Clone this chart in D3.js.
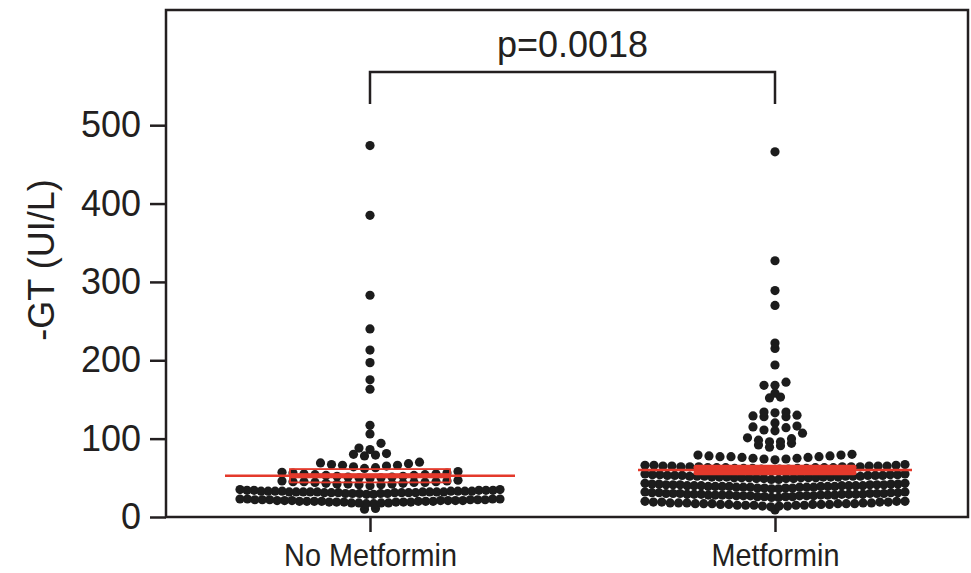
<!DOCTYPE html>
<html>
<head>
<meta charset="utf-8">
<script src="https://cdn.jsdelivr.net/npm/d3@7"></script>
<style>
  body { margin: 0; background: #fff; }
  svg text { font-family: "Liberation Sans", Arial, sans-serif; fill: #231f20; }
</style>
</head>
<body>
<svg id="chart" width="971" height="573"></svg>
<script>
// Groups and their γ-GT values (UI/L)
const categories = ["No Metformin", "Metformin"];

const noMetformin = [
  10, 11,
  17, 18, 19, 20, 21, 22, 23, 18, 19, 20, 21, 22, 23, 19, 20, 21, 22, 23,
  17, 18, 19, 20, 21, 22, 23, 19, 20, 21, 22, 20, 21, 22, 18, 19, 20, 21,
  29, 30, 31, 32, 33, 34, 35, 30, 31, 32, 33, 34, 35, 29, 30, 31, 32, 33, 34,
  31, 32, 33, 34, 30, 31, 32, 33, 32, 33, 31, 32, 33, 30, 31, 32, 33, 34, 32,
  40, 41, 42, 43, 44, 45, 46, 47, 41, 42, 43, 44, 45, 46, 42, 44, 45,
  49, 50, 51, 52, 53, 54, 55, 56, 57, 58, 50, 52, 54, 56, 51, 53, 55,
  62, 63, 64, 65, 66, 67, 68, 69, 70, 66,
  78, 79, 80, 81,
  86, 88, 94,
  106, 117,
  163, 175, 197, 213, 240, 283, 385, 474
];

const metformin = [
  9,
  13, 14, 15, 16, 17, 18, 19, 20, 14, 15, 16, 17, 18, 19, 20, 15, 16, 17, 18, 19, 20,
  14, 15, 16, 17, 18, 19, 16, 17, 18, 15, 17,
  25, 26, 27, 28, 29, 30, 31, 32, 25, 26, 27, 28, 29, 30, 31, 32, 26, 27, 28, 29, 30, 31,
  26, 27, 28, 29, 30, 31, 27, 28, 29, 30, 27, 28, 29, 30, 28, 29,
  36, 37, 38, 39, 40, 41, 42, 43, 36, 37, 38, 39, 40, 41, 42, 43, 37, 38, 39, 40, 41, 42,
  37, 38, 39, 40, 41, 42, 38, 39, 40, 41, 38, 39, 40, 41, 39, 40,
  48, 49, 50, 51, 52, 53, 54, 55, 48, 49, 50, 51, 52, 53, 54, 55, 49, 50, 51, 52, 53, 54,
  49, 50, 51, 52, 53, 54, 50, 51, 52, 53, 50, 51, 52, 53,
  60, 61, 62, 63, 64, 65, 66, 67, 61, 62, 63, 64, 65, 66, 61, 62, 63, 64, 65, 66,
  62, 63, 64, 65, 62, 63, 64, 65, 63, 64,
  73, 74, 75, 76, 77, 78, 79, 80, 74, 75, 76, 77, 78, 79, 77,
  89, 91, 92, 94,
  96, 96, 98, 100, 101, 107,
  110, 111, 114, 115, 116,
  120, 128, 128, 129, 130,
  133, 134, 134,
  152, 153,
  158,
  168, 168, 172,
  194,
  215, 222,
  270, 289, 327, 466
];

const yTicks = [0, 100, 200, 300, 400, 500];
const yTitle = "-GT (UI/L)";
const pText = "p=0.0018";

const groups = [noMetformin, metformin];

const svg = d3.select("#chart");
const plotLeft = 166, plotRight = 968, plotTop = 10, plotBottom = 517;

const x = d3.scalePoint().domain(categories).range([370, 775]);
const y = d3.scaleLinear().domain([0, 647]).range([plotBottom, plotTop]);

// Column scatter layout: values sharing a row band are spread side by side
function swarm(values, cx) {
  const band = 12, gap = 11, maxHalf = 130;
  const rows = d3.group(values, v => Math.floor(v / band));
  const pts = [];
  for (const [, vs] of rows) {
    const sorted = vs.slice().sort((a, b) => a - b);
    const n = sorted.length;
    const s = n > 1 ? Math.min(gap, 2 * maxHalf / (n - 1)) : 0;
    const slots = d3.range(n).map(k => (k - (n - 1) / 2) * s)
      .sort((a, b) => Math.abs(a) - Math.abs(b) || a - b);
    sorted.forEach((v, i) => pts.push({ v, x: cx + slots[i] }));
  }
  return pts;
}

const red = "#e4392b";
const ink = "#231f20";

// Dots
groups.forEach((vals, gi) => {
  const cx = x(categories[gi]);
  svg.append("g").selectAll("circle")
    .data(swarm(vals, cx))
    .join("circle")
    .attr("cx", d => d.x)
    .attr("cy", d => y(d.v))
    .attr("r", 4.6)
    .attr("fill", "#1c1c1c");
});

// Summary lines drawn over the dots: mean (long) and mean ± SEM (short)
const meanHalf = [145, 137];
groups.forEach((vals, gi) => {
  const cx = x(categories[gi]);
  const m = d3.mean(vals);
  const sem = d3.deviation(vals) / Math.sqrt(vals.length);
  const g = svg.append("g");
  g.append("line")
    .attr("x1", cx - meanHalf[gi]).attr("x2", cx + meanHalf[gi])
    .attr("y1", y(m)).attr("y2", y(m))
    .attr("stroke", red).attr("stroke-width", 2.5);
  [m - sem, m + sem].forEach(v => {
    if (gi === 0) {
      g.append("rect")
        .attr("x", cx - 80).attr("width", 160)
        .attr("y", y(v) - 2.5).attr("height", 5)
        .attr("fill", "none").attr("stroke", red).attr("stroke-width", 1.8);
    } else {
      g.append("line")
        .attr("x1", cx - 79).attr("x2", cx + 79)
        .attr("y1", y(v)).attr("y2", y(v))
        .attr("stroke", red).attr("stroke-width", 5).attr("stroke-linecap", "round");
    }
  });
});

// Frame
svg.append("rect")
  .attr("x", plotLeft).attr("y", plotTop)
  .attr("width", plotRight - plotLeft).attr("height", plotBottom - plotTop)
  .attr("fill", "none").attr("stroke", ink).attr("stroke-width", 2.5);

// Y axis
const yAxis = svg.append("g")
  .attr("transform", `translate(${plotLeft},0)`)
  .call(d3.axisLeft(y).tickValues(yTicks).tickSize(16).tickPadding(9));
yAxis.select(".domain").remove();
yAxis.selectAll("line").attr("stroke", ink).attr("stroke-width", 2.5);
yAxis.selectAll("text").attr("font-size", 36).attr("fill", ink)
  .style("font-family", "'Liberation Sans', Arial, sans-serif");

// X axis
const xAxis = svg.append("g")
  .attr("transform", `translate(0,${plotBottom})`)
  .call(d3.axisBottom(x).tickSize(15).tickPadding(0));
xAxis.select(".domain").remove();
xAxis.selectAll("line").attr("stroke", ink).attr("stroke-width", 2.5);
xAxis.selectAll("text")
  .attr("font-size", 32).attr("fill", ink)
  .attr("y", 0).attr("dy", null)
  .attr("transform", d => `translate(${0},${49}) scale(0.9,1)`)
  .style("font-family", "'Liberation Sans', Arial, sans-serif");

// Y title
svg.append("text")
  .attr("transform", "translate(54,260) rotate(-90)")
  .attr("text-anchor", "middle")
  .attr("font-size", 36)
  .text(yTitle);

// Significance bracket
const bx1 = x(categories[0]), bx2 = x(categories[1]);
svg.append("path")
  .attr("d", `M${bx1},104V72H${bx2}V104`)
  .attr("fill", "none").attr("stroke", ink).attr("stroke-width", 2.5);
svg.append("text")
  .attr("x", (bx1 + bx2) / 2).attr("y", 57)
  .attr("text-anchor", "middle")
  .attr("font-size", 36)
  .text(pText);
</script>
</body>
</html>
